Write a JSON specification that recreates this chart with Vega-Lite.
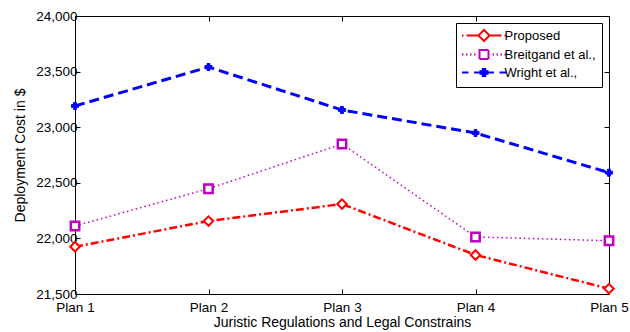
{
  "$schema": "https://vega.github.io/schema/vega-lite/v6.json",
  "autosize": "none",
  "width": 534,
  "height": 278,
  "padding": {"left": 75, "top": 16, "right": 21, "bottom": 38},
  "background": "white",
  "config": {
    "view": {"stroke": "black", "strokeWidth": 1},
    "font": "Liberation Sans",
    "axis": {
      "labelFont": "Liberation Sans",
      "labelFontSize": 13.5,
      "labelColor": "black",
      "titleFont": "Liberation Sans",
      "titleFontSize": 14,
      "titleFontWeight": "normal",
      "titleColor": "black",
      "tickColor": "black",
      "domain": false,
      "grid": false,
      "tickSize": -5
    }
  },
  "data": {
    "values": [
      {"plan": "Plan 1", "series": "Proposed", "value": 21925},
      {"plan": "Plan 2", "series": "Proposed", "value": 22156},
      {"plan": "Plan 3", "series": "Proposed", "value": 22309},
      {"plan": "Plan 4", "series": "Proposed", "value": 21851},
      {"plan": "Plan 5", "series": "Proposed", "value": 21548},
      {"plan": "Plan 1", "series": "Breitgand et al.,", "value": 22111},
      {"plan": "Plan 2", "series": "Breitgand et al.,", "value": 22447},
      {"plan": "Plan 3", "series": "Breitgand et al.,", "value": 22849},
      {"plan": "Plan 4", "series": "Breitgand et al.,", "value": 22013},
      {"plan": "Plan 5", "series": "Breitgand et al.,", "value": 21979},
      {"plan": "Plan 1", "series": "Wright et al.,", "value": 23191},
      {"plan": "Plan 2", "series": "Wright et al.,", "value": 23541},
      {"plan": "Plan 3", "series": "Wright et al.,", "value": 23155},
      {"plan": "Plan 4", "series": "Wright et al.,", "value": 22948},
      {"plan": "Plan 5", "series": "Wright et al.,", "value": 22591}
    ]
  },
  "resolve": {"axis": {"x": "independent", "y": "independent"}},
  "layer": [
    {
      "transform": [{"filter": "datum.series === 'Proposed'"}],
      "mark": {"type": "line", "strokeDash": [8, 3, 2, 3], "strokeWidth": 2.5},
      "encoding": {
        "x": {
          "field": "plan", "type": "ordinal",
          "scale": {"type": "point", "padding": 0, "domain": ["Plan 1", "Plan 2", "Plan 3", "Plan 4", "Plan 5"]},
          "axis": {"orient": "bottom", "labelAngle": 0, "labelPadding": 11, "title": "Juristic Regulations and Legal Constrains", "titlePadding": 2}
        },
        "y": {
          "field": "value", "type": "quantitative",
          "scale": {"domain": [21500, 24000], "nice": false, "zero": false},
          "axis": {"orient": "left", "values": [21500, 22000, 22500, 23000, 23500, 24000], "labelExpr": "format(datum.value, ',')", "labelPadding": 3, "title": "Deployment Cost in $", "titlePadding": 8}
        },
        "color": {
          "field": "series", "type": "nominal",
          "scale": {"domain": ["Proposed", "Breitgand et al.,", "Wright et al.,"], "range": ["#ff0000", "#c000c0", "#0000ff"]},
          "legend": {
            "orient": "top-right",
            "offset": 7,
            "title": null,
            "strokeColor": "black",
            "fillColor": "white",
            "padding": 6,
            "labelFont": "Liberation Sans",
            "labelFontSize": 13,
            "labelColor": "black",
            "symbolSize": 100,
            "symbolStrokeWidth": 2,
            "symbolOffset": 15.5,
            "labelOffset": 14,
            "rowPadding": 1,
            "encode": {
              "symbols": {
                "update": {
                  "shape": {"signal": "datum.value === 'Proposed' ? 'M-4.4,0L-4.1,0M-3.5,0L-1.2,0M1.2,0L3.5,0M4.1,0L4.4,0M0,-1.1L1.1,0L0,1.1L-1.1,0Z' : datum.value === 'Wright et al.,' ? 'M-4.4,0L-3.1,0M-2,0L-0.7,0M0.7,0L2,0M3.1,0L4.4,0M0,-0.9L0,0.9M-0.9,0L0.9,0M-0.25,-0.9L-0.25,0.9M0.25,-0.9L0.25,0.9M-0.9,-0.25L0.9,-0.25M-0.9,0.25L0.9,0.25' : 'M-4.4,0L-4.1,0M-3.6,0L-3.3,0M-2.8,0L-2.5,0M-2,0L-1.7,0M1.7,0L2,0M2.5,0L2.8,0M3.3,0L3.6,0M4.1,0L4.4,0M-0.9,-0.9L0.9,-0.9L0.9,0.9L-0.9,0.9Z'"},
                  "fill": {"value": "transparent"},
                  "strokeDash": {"value": [1, 0]}
                }
              }
            }
          }
        }
      }
    },
    {
      "transform": [{"filter": "datum.series === 'Breitgand et al.,'"}],
      "mark": {"type": "line", "strokeDash": [1.5, 3], "strokeWidth": 1.5},
      "encoding": {
        "x": {"field": "plan", "type": "ordinal", "axis": null},
        "y": {"field": "value", "type": "quantitative", "axis": null},
        "color": {"field": "series", "type": "nominal"}
      }
    },
    {
      "transform": [{"filter": "datum.series === 'Wright et al.,'"}],
      "mark": {"type": "line", "strokeDash": [10, 5], "strokeWidth": 3},
      "encoding": {
        "x": {"field": "plan", "type": "ordinal", "axis": null},
        "y": {"field": "value", "type": "quantitative", "axis": null},
        "color": {"field": "series", "type": "nominal"}
      }
    },
    {
      "transform": [{"filter": "datum.series === 'Proposed'"}],
      "mark": {"type": "point", "shape": "diamond", "size": 90, "strokeWidth": 2, "fill": "white", "stroke": "#ff0000", "opacity": 1},
      "encoding": {
        "x": {"field": "plan", "type": "ordinal", "axis": null},
        "y": {"field": "value", "type": "quantitative", "axis": null}
      }
    },
    {
      "transform": [{"filter": "datum.series === 'Breitgand et al.,'"}],
      "mark": {"type": "point", "shape": "square", "size": 70, "strokeWidth": 2.5, "fill": "white", "stroke": "#c000c0", "opacity": 1},
      "encoding": {
        "x": {"field": "plan", "type": "ordinal", "axis": null},
        "y": {"field": "value", "type": "quantitative", "axis": null}
      }
    },
    {
      "transform": [{"filter": "datum.series === 'Wright et al.,'"}],
      "mark": {"type": "point", "shape": "cross", "size": 50, "strokeWidth": 1, "fill": "#0000ff", "stroke": "#0000ff", "opacity": 1},
      "encoding": {
        "x": {"field": "plan", "type": "ordinal", "axis": null},
        "y": {"field": "value", "type": "quantitative", "axis": null}
      }
    },
    {
      "mark": {"type": "point", "opacity": 0},
      "encoding": {
        "x": {"field": "plan", "type": "ordinal", "axis": {"orient": "top", "labels": false, "title": null}},
        "y": {"field": "value", "type": "quantitative", "axis": {"orient": "right", "labels": false, "title": null, "values": [21500, 22000, 22500, 23000, 23500, 24000]}}
      }
    }
  ]
}
